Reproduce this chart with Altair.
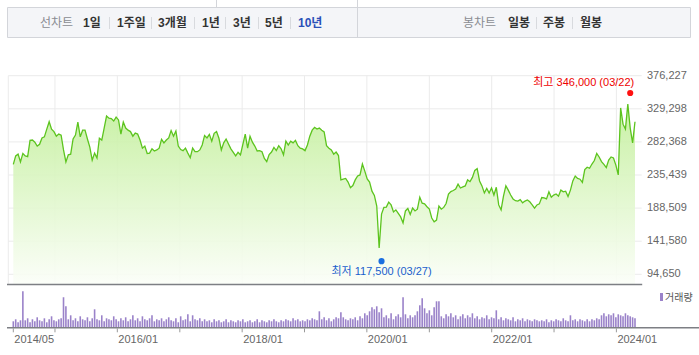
import altair as alt
import pandas as pd

# ---------------- data ----------------
START = "2014-05-02"          # first sample (bi-weekly closes)
STEP = "14D"
price = [
    250500, 262500, 265000, 254000, 266000, 262500, 261500, 284500, 285000, 282000,
    276500, 279000, 288000, 289500, 300500, 311000, 300500, 297000, 290500, 293500,
    292000, 271000, 254000, 264000, 265000, 286500, 292000, 310500, 289500, 299000,
    299000, 286500, 275000, 256500, 266500, 259500, 287500, 285000, 302000, 319000,
    316000, 315500, 312000, 317500, 313500, 293500, 310500, 302000, 299000, 297000,
    290500, 295000, 293500, 285000, 273500, 276500, 266000, 266500, 272500, 269500,
    271000, 273500, 286000, 281000, 285000, 288000, 298500, 290500, 298000, 276500,
    271500, 270000, 273500, 266500, 260000, 273500, 268500, 268500, 271000, 278000,
    291500, 288000, 293000, 283500, 294500, 297000, 287500, 271000, 281000, 286500,
    279500, 272500, 267500, 262500, 267500, 264000, 279000, 293500, 273500, 290500,
    282000, 276500, 269500, 270000, 268500, 259000, 254500, 264500, 268000, 274500,
    270000, 277000, 272500, 264000, 283500, 278000, 283500, 281000, 284500, 277000,
    273500, 272500, 270000, 278000, 290500, 299000, 303000, 300500, 302000, 299000,
    296500, 277000, 273500, 271000, 265000, 268000, 263000, 228500, 229500, 230500,
    225500, 217500, 220500, 228500, 234000, 235500, 251000, 241000, 230000, 225500,
    212500, 206500, 191500, 132000, 180000, 189500, 190000, 197000, 193000, 183000,
    186000, 181000, 176000, 167500, 184500, 188000, 179500, 188500, 184500, 187000,
    204000, 195500, 194500, 190500, 187000, 174500, 169000, 171500, 191500, 187000,
    189500, 195000, 208500, 212000, 213500, 215500, 222500, 217000, 218500, 220000,
    228500, 226000, 232000, 242000, 244500, 227000, 220000, 210000, 216500, 210000,
    217000, 207000, 218000, 193000, 186000, 205500, 220000, 214000, 207000, 201500,
    199000, 198500, 200500, 196000, 198500, 200000, 197500, 193000, 188500, 193000,
    194500, 203500, 203000, 201500, 211500, 204000, 207000, 208500, 205500, 214000,
    211500, 212500, 205000, 214000, 227000, 234000, 230500, 229500, 225000, 243000,
    246500, 245000, 251000, 256000, 266000, 261000, 254500, 250500, 246000, 256500,
    261000, 259500, 249500, 235500, 330500, 307500, 300500, 336000, 302000, 281000,
    311000,
]
# volume, thousand shares
volume = [
    60, 80, 50, 70, 360, 70, 90, 50, 80, 60, 100, 70, 60, 90, 50, 80, 110, 70, 60, 80, 90,
    300, 210, 80, 120, 70, 90, 60, 110, 80, 70, 100, 60, 90, 180, 80, 70, 120, 60, 90, 80,
    70, 110, 80, 60, 90, 70, 100, 60, 80, 120, 70, 90, 60, 110, 80, 70, 90, 120, 60, 80,
    70, 90, 60, 80, 100, 70, 60, 90, 50, 110, 70, 80, 130, 60, 120, 80, 70, 90, 60, 80,
    60, 70, 50, 80, 60, 70, 50, 60, 80, 50, 70, 60, 50, 70, 60, 80, 50, 60, 70, 50,
    60, 80, 50, 70, 60, 50, 70, 60, 80, 60, 50, 70, 60, 80, 70, 60, 90, 70, 80, 60,
    70, 60, 80, 70, 90, 80, 70, 160, 80, 100, 70, 90, 60, 80, 100, 90, 150, 100, 80, 70,
    90, 80, 100, 70, 110, 90, 140, 120, 160, 200, 180, 210, 150, 190, 100, 120, 90, 140, 80, 110,
    130, 100, 300, 130, 90, 120, 100, 120, 160, 220, 290, 190, 140, 170, 120, 200, 260, 260, 110, 90,
    130, 110, 140, 100, 120, 80, 110, 130, 90, 120, 100, 140, 90, 110, 80, 100, 90, 120, 80, 100,
    90, 170, 80, 100, 70, 90, 80, 70, 100, 60, 80, 70, 90, 60, 80, 70, 60, 80, 70, 60,
    70, 60, 80, 50, 70, 60, 80, 70, 60, 90, 70, 60, 120, 70, 80, 60, 80, 70, 60, 80,
    60, 80, 70, 90, 80, 120, 140, 110, 130, 120, 140, 100, 130, 120, 110, 140, 120, 110, 100, 90,
]
price_ticks = [94650, 141580, 188509, 235439, 282368, 329298, 376227]
x_ticks = ["2014-05-02", "2015-01-01", "2016-01-01", "2017-01-01", "2018-01-01",
           "2019-01-01", "2020-01-01", "2021-01-01", "2022-01-01", "2023-01-01", "2024-01-01"]
x_labels = ["2014-05-02", "2016-01-01", "2018-01-01", "2020-01-01", "2022-01-01", "2024-01-01"]
extremes_date = ["2024-03-22", "2020-03-27"]
extremes_value = [346000, 117500]
extremes_text = ["최고 346,000 (03/22)", "최저 117,500 (03/27)"]

PRICE_FLOOR = 80900
PRICE_TOP = 376227
VOL_TOP = 390

FONT = "Liberation Sans, Noto Sans CJK KR, sans-serif"

df = pd.DataFrame({"date": pd.date_range(START, periods=len(price), freq=STEP),
                   "price": price, "volume": volume})
tick_df = pd.DataFrame({"date": pd.to_datetime(x_ticks)})
lab_df = pd.DataFrame({"date": pd.to_datetime(x_labels)})
grid_df = pd.DataFrame({"date": pd.to_datetime(x_ticks[1:])})
pt_df = pd.DataFrame({"v": price_ticks})
ext_df = pd.DataFrame({"date": pd.to_datetime(extremes_date), "v": extremes_value,
                       "t": extremes_text})

# ---------------- scales ----------------
L, R = 8.3, 641.7
P_TOP, P_BOT = 75.7, 284
V_TOP, V_BOT = 288.3, 327.3
xs = alt.Scale(domain=[alt.DateTime(year=2014, month=5, date=2),
                       alt.DateTime(year=2024, month=4, date=29)], range=[L, R])
ys = alt.Scale(domain=[PRICE_FLOOR, PRICE_TOP], range=[P_BOT, P_TOP], nice=False, zero=False)
vs = alt.Scale(domain=[0, VOL_TOP], range=[V_BOT, V_TOP], nice=False, zero=False)

X = lambda: alt.X("date:T", scale=xs, axis=None)
GRID = "#ebebeb"

layers = []

# header bar
layers.append(alt.Chart(pd.DataFrame({"a": [0]})).mark_rect(
    fill="#f4f5f8", stroke="#d3d5da", strokeWidth=1).encode(
    x=alt.value(7.5), x2=alt.value(690.5), y=alt.value(7.5), y2=alt.value(37.5)))
layers.append(alt.Chart(pd.DataFrame({"a": [0]})).mark_rule(color="#d3d5da").encode(
    x=alt.value(357.5), y=alt.value(0), y2=alt.value(37.5)))
layers.append(alt.Chart(pd.DataFrame({"a": [0]})).mark_rule(color="#d3d5da").encode(
    x=alt.value(216.5), y=alt.value(0), y2=alt.value(7.5)))

header = [("선차트", 40, "lab"), ("1일", 83, "b"), ("1주일", 117, "b"), ("3개월", 158, "b"),
          ("1년", 202, "b"), ("3년", 233, "b"), ("5년", 265, "b"), ("10년", 298, "sel"),
          ("봉차트", 463, "lab"), ("일봉", 508, "b"), ("주봉", 543, "b"), ("월봉", 580, "b")]
for txt, hx, st in header:
    color = {"lab": "#8a8c92", "b": "#333333", "sel": "#2a50b8"}[st]
    weight = "normal" if st == "lab" else "bold"
    layers.append(alt.Chart(pd.DataFrame({"a": [0]})).mark_text(
        align="left", baseline="middle", font=FONT, fontSize=12, fontWeight=weight,
        color=color).encode(x=alt.value(hx), y=alt.value(23), text=alt.value(txt)))
for sx in [109, 151, 194, 225, 258, 290, 536, 572]:
    layers.append(alt.Chart(pd.DataFrame({"a": [0]})).mark_rule(color="#d8dade").encode(
        x=alt.value(sx + 0.5), y=alt.value(17), y2=alt.value(29)))

# price grid
layers.append(alt.Chart(pt_df).mark_rule(color=GRID, strokeWidth=1).encode(
    y=alt.Y("v:Q", scale=ys, axis=None), x=alt.value(L), x2=alt.value(R)))
layers.append(alt.Chart(grid_df).mark_rule(color=GRID, strokeWidth=1).encode(
    x=X(), y=alt.value(P_TOP), y2=alt.value(P_BOT)))
layers.append(alt.Chart(pd.DataFrame({"a": [0]})).mark_rule(color=GRID).encode(
    x=alt.value(L), y=alt.value(P_TOP), y2=alt.value(P_BOT)))

# price area + line
grad = alt.Gradient(gradient="linear",
                    stops=[alt.GradientStop(color="#c2ef9a", offset=0),
                           alt.GradientStop(color="#fbfef8", offset=1)],
                    x1=1, x2=1, y1=0, y2=1)
layers.append(alt.Chart(df).mark_area(color=grad, opacity=0.9).encode(
    x=X(), y=alt.Y("price:Q", scale=ys, axis=None), y2=alt.datum(PRICE_FLOOR)))
layers.append(alt.Chart(df).mark_line(color="#5cc41e", strokeWidth=1.3).encode(
    x=X(), y=alt.Y("price:Q", scale=ys, axis=None)))

# right labels
layers.append(alt.Chart(pt_df).mark_text(
    align="left", baseline="middle", font=FONT, fontSize=11, color="#666666").encode(
    y=alt.Y("v:Q", scale=ys, axis=None), x=alt.value(647),
    text=alt.Text("v:Q", format=",")))

# bottom border of price panel
layers.append(alt.Chart(pd.DataFrame({"a": [0]})).mark_rule(color="#7d7f84", strokeWidth=1.5).encode(
    y=alt.value(P_BOT + 0.5), x=alt.value(7), x2=alt.value(R + 0.5)))

# extremes
layers.append(alt.Chart(ext_df.iloc[[0]]).mark_point(
    filled=True, size=38, color="#ff1111", opacity=1, yOffset=-4).encode(
    x=X(), y=alt.Y("v:Q", scale=ys, axis=None)))
layers.append(alt.Chart(ext_df.iloc[[0]]).mark_text(
    align="right", baseline="middle", font=FONT, fontSize=11, color="#ee0000",
    dx=4, dy=-14).encode(x=X(), y=alt.Y("v:Q", scale=ys, axis=None), text="t:N"))
layers.append(alt.Chart(ext_df.iloc[[1]]).mark_point(
    filled=True, size=38, color="#1a6fe0", opacity=1, yOffset=3).encode(
    x=X(), y=alt.Y("v:Q", scale=ys, axis=None)))
layers.append(alt.Chart(ext_df.iloc[[1]]).mark_text(
    align="center", baseline="middle", font=FONT, fontSize=11, color="#1a5fcc",
    dy=13.5).encode(x=X(), y=alt.Y("v:Q", scale=ys, axis=None), text="t:N"))

# volume
layers.append(alt.Chart(df).mark_bar(color="#9a82c9", width=1.6).encode(
    x=X(), y=alt.Y("volume:Q", scale=vs, axis=None), y2=alt.datum(0)))
layers.append(alt.Chart(pd.DataFrame({"a": [0]})).mark_rule(color="#7d7f84", strokeWidth=1.5).encode(
    y=alt.value(V_BOT + 0.5), x=alt.value(7), x2=alt.value(699)))
layers.append(alt.Chart(tick_df).mark_rule(color="#999999").encode(
    x=X(), y=alt.value(V_BOT + 1), y2=alt.value(V_BOT + 5)))
layers.append(alt.Chart(lab_df).mark_text(
    align="left", baseline="middle", font=FONT, fontSize=11, color="#666666", dx=1).encode(
    x=X(), y=alt.value(340), text=alt.Text("date:T", format="%Y/%m")))

# volume legend
layers.append(alt.Chart(pd.DataFrame({"a": [0]})).mark_rect(color="#9a82c9").encode(
    x=alt.value(660), x2=alt.value(663), y=alt.value(293), y2=alt.value(301)))
layers.append(alt.Chart(pd.DataFrame({"a": [0]})).mark_text(
    align="left", baseline="middle", font=FONT, fontSize=10, color="#555555").encode(
    x=alt.value(665), y=alt.value(297.5), text=alt.value("거래량")))

chart = alt.layer(*layers).resolve_scale(y="independent").properties(
    width=699, height=355, padding=0, autosize=alt.AutoSizeParams(type="none"),
    background="white"
).configure_view(strokeWidth=0)

chart.save("out.html", embed_options={"renderer": "svg", "actions": False})
